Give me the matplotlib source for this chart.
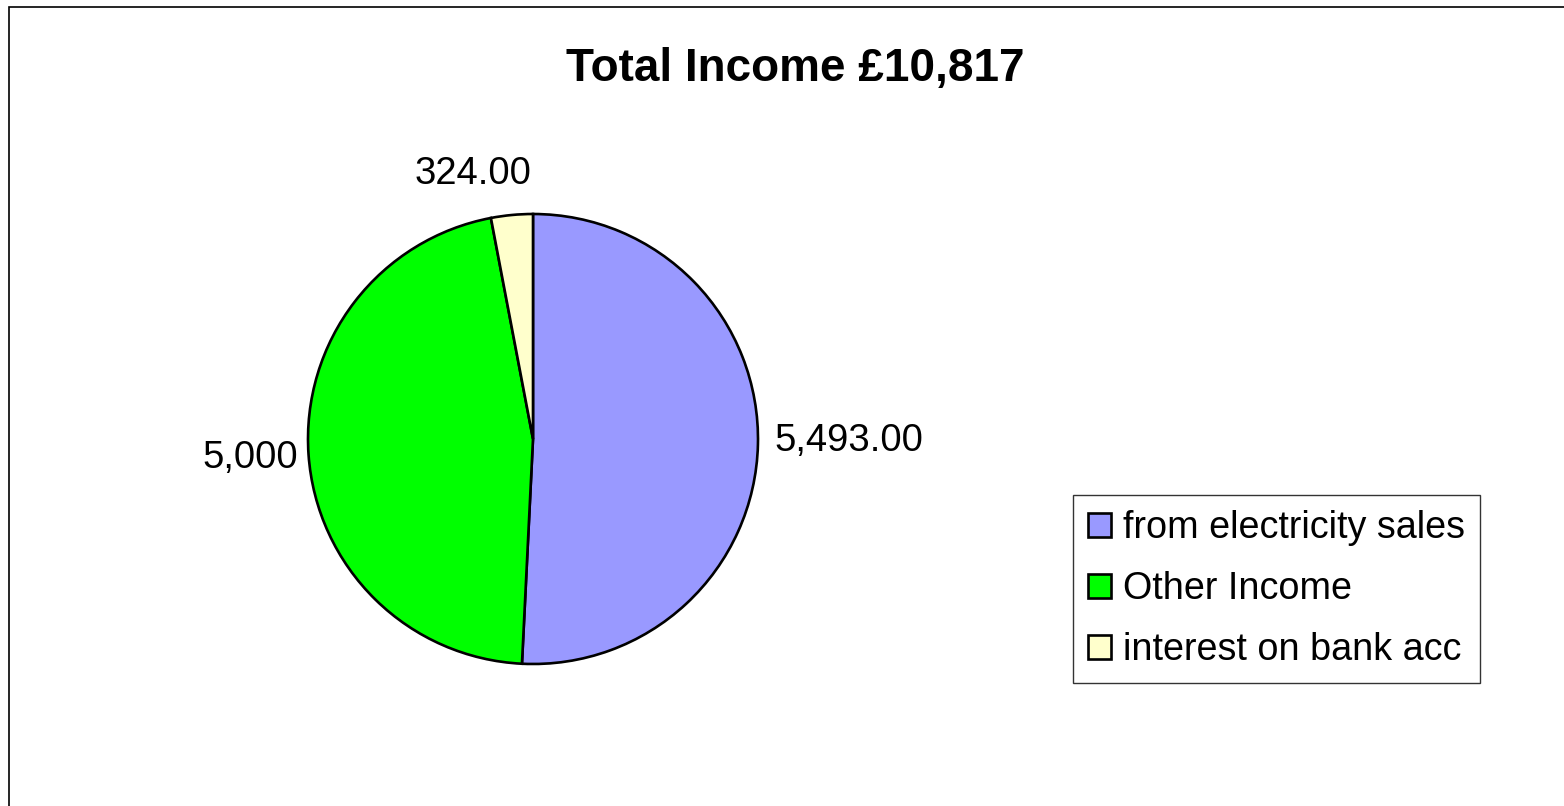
import matplotlib
matplotlib.use("Agg")
import matplotlib.pyplot as plt
from matplotlib.patches import Rectangle

categories = ["from electricity sales", "Other Income", "interest on bank acc"]
values = [5493.00, 5000, 324.00]
value_labels = ["5,493.00", "5,000", "324.00"]
title = "Total Income £10,817"
colors = ["#9999FF", "#00FF00", "#FFFFCC"]

plt.rcParams['font.family'] = ['Liberation Sans', 'DejaVu Sans']

W, H = 1564, 806
fig = plt.figure(figsize=(W / 100, H / 100), dpi=100)
fig.patch.set_facecolor("white")

# outer chart frame (right/bottom edges fall outside the image)
fig.add_artist(Rectangle((9 / W, -0.05), 1.2, 1 - 7 / H + 0.05, transform=fig.transFigure,
                         fill=False, edgecolor="black", linewidth=1.2))

cx, cy, r = 533, 439, 225
ax = fig.add_axes([(cx - r) / W, (H - cy - r) / H, 2 * r / W, 2 * r / H])
wedges, _ = ax.pie(values, colors=colors, startangle=90, counterclock=False,
                   wedgeprops=dict(edgecolor="black", linewidth=1.9), radius=1.0)
ax.set_xlim(-1, 1)
ax.set_ylim(-1, 1)
ax.set_aspect("equal")
ax.axis("off")
for w in wedges:
    w.set_clip_on(False)

# data label placement (layout, in axes data units)
label_pos = [(1.071, -0.01, "left"), (-1.044, -0.085, "right"), (-0.267, 1.18, "center")]
for (x, y, ha), txt in zip(label_pos, value_labels):
    ax.text(x, y, txt, ha=ha, va="center", fontsize=27.5, clip_on=False)

fig.text(795 / W, 1 - 69 / H, title, ha="center", va="center", fontsize=33, fontweight="bold")

leg = fig.legend(wedges, categories, loc="upper left",
                 bbox_to_anchor=(1073 / W, 1 - 495 / H), bbox_transform=fig.transFigure,
                 fontsize=27.2, frameon=True, fancybox=False, shadow=False,
                 handlelength=0.6, handleheight=0.6, handletextpad=0.33,
                 labelspacing=0.66, borderpad=0.4, borderaxespad=0)
leg.get_frame().set_edgecolor("black")
leg.get_frame().set_linewidth(1.0)
for h in leg.legend_handles:
    h.set_linewidth(1.9)

fig.savefig("out.png", dpi=100, facecolor="white")
